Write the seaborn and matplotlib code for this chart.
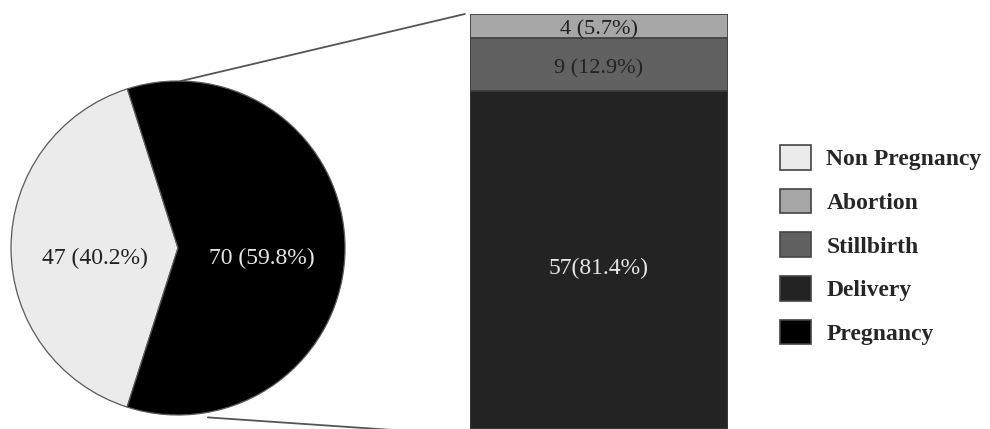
import numpy as np
import pandas as pd
import matplotlib
matplotlib.use("Agg")
import matplotlib.pyplot as plt
import seaborn as sns
from matplotlib.patches import Patch, ConnectionPatch

# ---- data ----
pie_labels = ["Non Pregnancy", "Pregnancy"]
pie_counts = [47, 70]
pie_pcts = [40.2, 59.8]

bar_labels = ["Abortion", "Stillbirth", "Delivery"]
bar_counts = [4, 9, 57]
bar_pcts = [5.7, 12.9, 81.4]

legend_order = ["Non Pregnancy", "Abortion", "Stillbirth", "Delivery", "Pregnancy"]

# ---- style ----
sns.set_theme(style="white")
plt.rcParams["font.family"] = ["Liberation Serif", "DejaVu Serif"]

colors = {
    "Non Pregnancy": "#ebebeb",
    "Abortion": "#a6a6a6",
    "Stillbirth": "#616161",
    "Delivery": "#232323",
    "Pregnancy": "#000000",
}

W, H = 990, 429
fig = plt.figure(figsize=(W / 100, H / 100), dpi=100)

def px_axes(x0, y0, x1, y1):
    return fig.add_axes([x0 / W, 1 - y1 / H, (x1 - x0) / W, (y1 - y0) / H])

# ---- pie ----
ax_pie = px_axes(11, 81, 345, 415)
start = 180 - pie_pcts[0] / 100 * 360 / 2
wedges, _ = ax_pie.pie(
    pie_counts,
    colors=[colors[l] for l in pie_labels],
    startangle=start,
    counterclock=True,
    radius=1,
    wedgeprops=dict(edgecolor="#5a5a5a", linewidth=0.9),
)
ax_pie.set_xlim(-1, 1)
ax_pie.set_ylim(-1, 1)
ax_pie.set_aspect("equal")
ax_pie.axis("off")
pie_text_colors = ["#222222", "#e6e6e6"]
for w, c, p, tc in zip(wedges, pie_counts, pie_pcts, pie_text_colors):
    ang = np.deg2rad((w.theta1 + w.theta2) / 2)
    r = 0.5
    ax_pie.text(r * np.cos(ang), r * np.sin(ang) - 0.05, f"{c} ({p}%)",
                ha="center", va="center_baseline", fontsize=17, color=tc)

# ---- stacked bar (layered cumulative bars) ----
ax_bar = px_axes(470, 14, 728, 429)
total = sum(bar_counts)
stack_order = bar_labels[::-1]
stack_counts = bar_counts[::-1]
cum = np.cumsum(stack_counts)
for lab, top in sorted(zip(stack_order, cum), key=lambda t: -t[1]):
    df = pd.DataFrame({"group": ["Pregnancy"], "value": [top]})
    sns.barplot(data=df, x="group", y="value", color=colors[lab], saturation=1,
                width=1, edgecolor="#3c3c3c", linewidth=1.2, ax=ax_bar)
ax_bar.set_xlim(-0.5, 0.5)
ax_bar.set_ylim(0, total)
ax_bar.axis("off")

bottoms = np.concatenate([[0], cum[:-1]])
bar_text = {"Abortion": ("{c} ({p}%)", "#222222", 16, -0.3),
            "Stillbirth": ("{c} ({p}%)", "#222222", 16, -0.4),
            "Delivery": ("{c}({p}%)", "#e6e6e6", 17, -1.0)}
for lab, c, b in zip(stack_order, stack_counts, bottoms):
    p = bar_pcts[bar_labels.index(lab)]
    fmt, tc, fs, dy = bar_text[lab]
    ax_bar.text(0, b + c / 2 + dy, fmt.format(c=c, p=p), ha="center",
                va="center_baseline", fontsize=fs, color=tc)

# ---- connection lines ----
for ang, r, yb in [(89, 1.0, total), (-80, 1.03, -1.0)]:
    a = np.deg2rad(ang)
    con = ConnectionPatch(xyA=(np.cos(a) * r, np.sin(a) * r), coordsA=ax_pie.transData,
                          xyB=(-0.52, yb), coordsB=ax_bar.transData,
                          color="#555555", linewidth=1.3)
    fig.add_artist(con)

# ---- legend ----
handles = [Patch(facecolor=colors[l], edgecolor="#444444", linewidth=1.2, label=l)
           for l in legend_order]
leg = fig.legend(handles=handles, loc="upper left",
                 bbox_to_anchor=(780 / W, 1 - 145 / H),
                 frameon=False, borderpad=0, borderaxespad=0,
                 handlelength=1.31, handleheight=1.23, handletextpad=0.65,
                 labelspacing=0.78,
                 prop={"family": "Liberation Serif", "weight": "bold", "size": 17})

fig.savefig("out.png", dpi=100)
